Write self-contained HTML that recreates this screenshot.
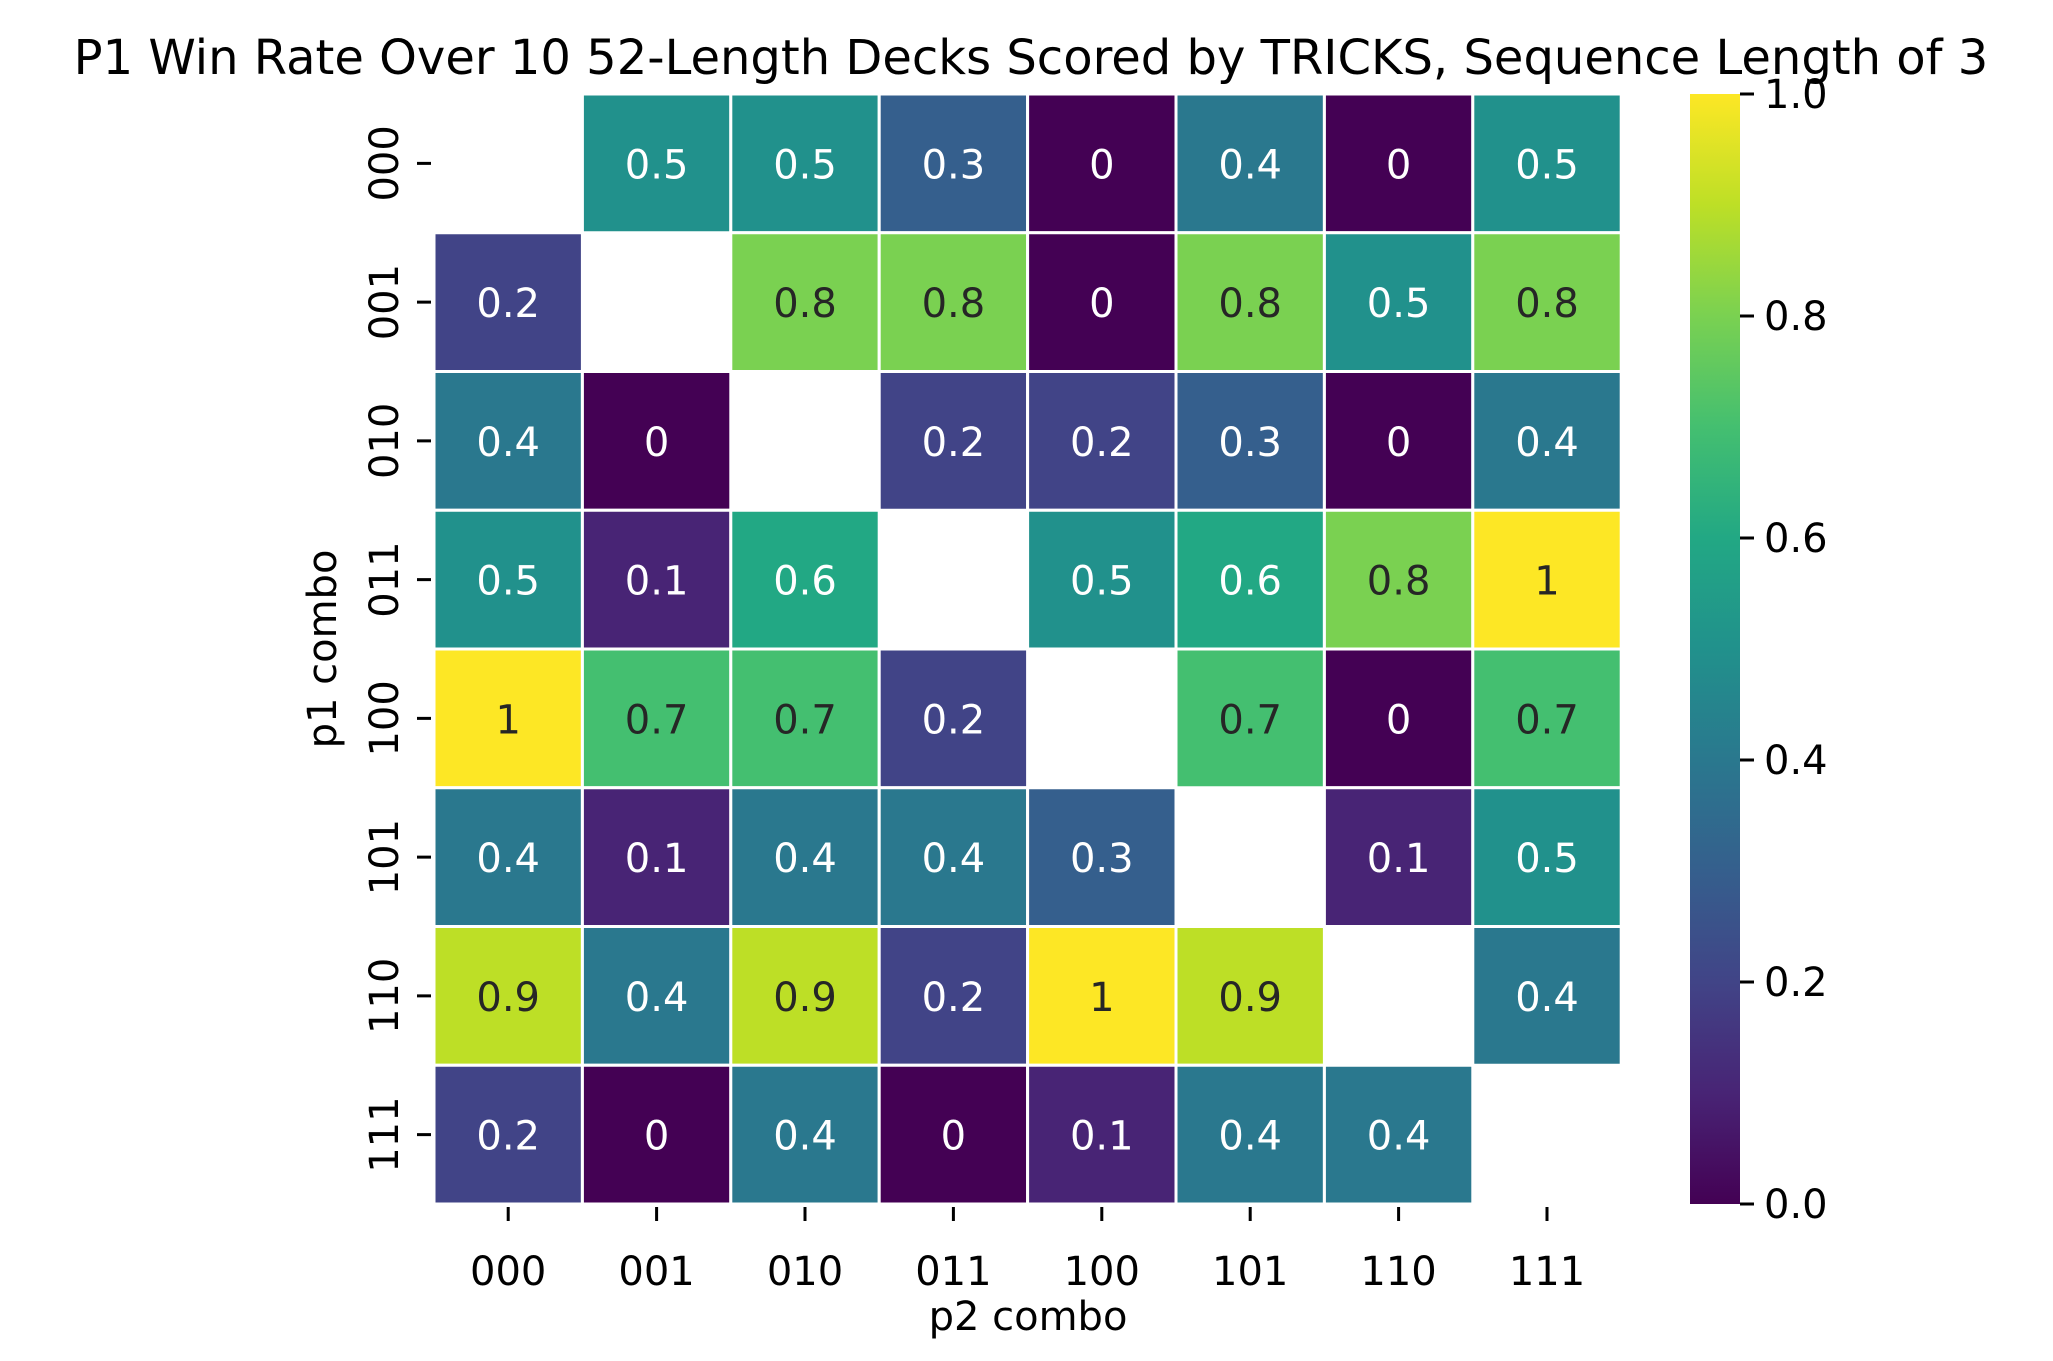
<!DOCTYPE html>
<html><head><meta charset="utf-8"><style>
html,body{margin:0;padding:0;background:#fff;}
svg{display:block;font-family:"DejaVu Sans","Liberation Sans",sans-serif;}
</style></head><body>
<svg id="chart" width="2053" height="1361" xmlns="http://www.w3.org/2000/svg">
<defs><linearGradient id="cbg" x1="0" y1="1" x2="0" y2="0"></linearGradient></defs>
<text x="1031" y="74" font-size="48" text-anchor="middle">P1 Win Rate Over 10 52-Length Decks Scored by TRICKS, Sequence Length of 3</text>
<g id="cells"></g><g id="axes"></g>
<text x="1028" y="1330" font-size="40" text-anchor="middle">p2 combo</text>
<text transform="translate(336,649) rotate(-90)" font-size="40" text-anchor="middle">p1 combo</text>
</svg>
<script>
const xLabels=["000","001","010","011","100","101","110","111"];
const yLabels=["000","001","010","011","100","101","110","111"];
const row0=[null,0.5,0.5,0.3,0,0.4,0,0.5];
const row1=[0.2,null,0.8,0.8,0,0.8,0.5,0.8];
const row2=[0.4,0,null,0.2,0.2,0.3,0,0.4];
const row3=[0.5,0.1,0.6,null,0.5,0.6,0.8,1];
const row4=[1,0.7,0.7,0.2,null,0.7,0,0.7];
const row5=[0.4,0.1,0.4,0.4,0.3,null,0.1,0.5];
const row6=[0.9,0.4,0.9,0.2,1,0.9,null,0.4];
const row7=[0.2,0,0.4,0,0.1,0.4,0.4,null];
const rows=[row0,row1,row2,row3,row4,row5,row6,row7];
const cbTicks=[0,0.2,0.4,0.6,0.8,1.0];
const NS="http://www.w3.org/2000/svg";
const L=434,T=94,CW=148.4,RH=138.75;
const X=i=>L+i*CW, Y=j=>T+j*RH;
const CBX=1690,CBW=50,CBT=94,CBB=1204;
const CY=v=>CBB-v*(CBB-CBT);
const vir=[[68,1,84],[72,36,117],[65,68,135],[53,95,141],[42,120,142],[33,145,140],[34,168,132],[68,191,112],[122,209,81],[189,223,38],[253,231,37]];
function col(v){const t=Math.max(0,Math.min(1,v))*10;const i=Math.min(9,Math.floor(t)),f=t-i;const a=vir[i],b=vir[i+1];return `rgb(${a.map((c,k)=>Math.round(c+(b[k]-c)*f)).join(',')})`;}
function mk(tag,attrs,parent){const e=document.createElementNS(NS,tag);for(const k in attrs)e.setAttribute(k,attrs[k]);parent.appendChild(e);return e;}
const cells=document.getElementById('cells'),axes=document.getElementById('axes');
rows.forEach((r,j)=>r.forEach((v,i)=>{
  if(v===null)return;
  const rc=mk('rect',{x:X(i),y:Y(j),width:CW,height:RH,fill:col(v),stroke:'#fff','stroke-width':3},cells);
  
  
  const t=mk('text',{x:X(i)+CW/2,y:Y(j)+RH/2+15,'font-size':40,'text-anchor':'middle',fill:v>=0.65?'#262626':'#fff'},cells);
  t.textContent=String(v);
  
  
}));
xLabels.forEach((s,i)=>{
  const x=X(i)+CW/2;
  const tk=mk('line',{x1:x,x2:x,y1:1207,y2:1221,stroke:'#000','stroke-width':3},axes);
  
  
  const t=mk('text',{x:x,y:1285,'font-size':40,'text-anchor':'middle'},axes);
  t.textContent=s;
  
  
});
yLabels.forEach((s,j)=>{
  const y=Y(j)+RH/2;
  const tk=mk('line',{x1:417,x2:431,y1:y,y2:y,stroke:'#000','stroke-width':3},axes);
  
  
  const t=mk('text',{transform:`translate(398,${y}) rotate(-90)`,'font-size':40,'text-anchor':'middle'},axes);
  t.textContent=s;
  
  
});
const g=document.getElementById('cbg');
vir.forEach((c,k)=>mk('stop',{offset:(k*10)+'%','stop-color':`rgb(${c.join(',')})`},g));
const cb=mk('rect',{x:CBX,y:CBT,width:CBW,height:CBB-CBT,fill:'url(#cbg)'},axes);


cbTicks.forEach(v=>{
  const y=CY(v);
  const tk=mk('line',{x1:CBX+CBW,x2:CBX+CBW+14,y1:y,y2:y,stroke:'#000','stroke-width':3},axes);
  
  
  const t=mk('text',{x:1764,y:y+14,'font-size':40},axes);
  t.textContent=v.toFixed(1);
  
  
});
</script>
</body></html>
